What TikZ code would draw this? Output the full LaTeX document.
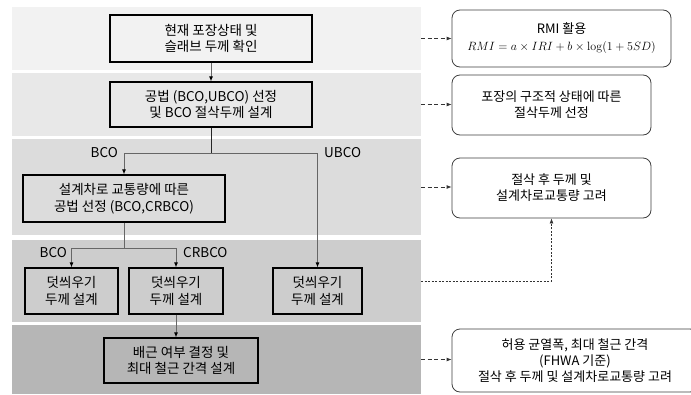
\documentclass[tikz,border=0pt]{standalone}
\usepackage[no-math]{fontspec}
\setmainfont{Noto Sans CJK KR}
\usetikzlibrary{arrows.meta}

\definecolor{bandA}{RGB}{242,242,242}
\definecolor{bandB}{RGB}{232,232,232}
\definecolor{bandC}{RGB}{220,220,220}
\definecolor{bandD}{RGB}{205,205,205}
\definecolor{bandE}{RGB}{182,182,182}

\tikzset{
  band/.style={draw=none, minimum width=409pt, inner sep=0pt},
  flowbox/.style={draw=black, line width=1.2pt, align=center, inner sep=0pt,
    font=\fontsize{13.5}{16.5}\selectfont},
  notebox/.style={draw=black!75, fill=white, line width=0.8pt, rounded corners=8pt,
    align=center, inner sep=0pt, font=\fontsize{13}{16}\selectfont},
  flowline/.style={draw=black!60, line width=0.9pt},
  flowarrow/.style={flowline, -{Latex[length=5pt,width=4pt,black]}},
  notearrow/.style={draw=black!80, line width=0.8pt, dash pattern=on 4pt off 2.5pt,
    -{Latex[length=5pt,width=4pt]}},
  dotarrow/.style={draw=black!80, line width=0.8pt, dash pattern=on 2pt off 1.5pt,
    -{Latex[length=5pt,width=4pt]}},
  branchlabel/.style={font=\fontsize{13.5}{16}\selectfont, inner sep=1pt},
}

\begin{document}
\begin{tikzpicture}[x=1pt,y=-1pt]
    \useasboundingbox[fill=white] (0,0) rectangle (691,394);

    % shaded stages
    \node[band, fill=bandA, minimum height=63pt] (band1) at (216.5, 38.5) {};
    \node[band, fill=bandB, minimum height=63pt] (band2) at (216.5, 104.5) {};
    \node[band, fill=bandC, minimum height=96pt] (band3) at (216.5, 187) {};
    \node[band, fill=bandD, minimum height=82pt] (band4) at (216.5, 281) {};
    \node[band, fill=bandE, minimum height=69pt] (band5) at (216.5, 359.5) {};

    % main flow
    \node[flowbox, fill=bandA, minimum width=202pt, minimum height=47pt] (check) at (211, 38.5)
        {현재 포장상태 및\\슬래브 두께 확인};
    \node[flowbox, fill=bandB, minimum width=202pt, minimum height=45pt] (method) at (211, 104.5)
        {공법 (BCO,UBCO) 선정\\및 BCO 절삭두께 설계};
    \node[flowbox, fill=bandC, minimum width=202pt, minimum height=47pt] (traffic) at (124, 198.5)
        {설계차로 교통량에 따른\\공법 선정 (BCO,CRBCO)};
    \node[flowbox, fill=bandD, minimum width=93pt, minimum height=46pt] (overA) at (71.5, 291)
        {덧씌우기\\두께 설계};
    \node[flowbox, fill=bandD, minimum width=94pt, minimum height=46pt] (overB) at (176, 291)
        {덧씌우기\\두께 설계};
    \node[flowbox, fill=bandD, minimum width=89pt, minimum height=46pt] (overC) at (317.5, 291)
        {덧씌우기\\두께 설계};
    \node[flowbox, fill=bandE, minimum width=154pt, minimum height=45pt] (rebar) at (181, 360.5)
        {배근 여부 결정 및\\최대 철근 간격 설계};

    \coordinate (split1) at (211, 153);
    \coordinate (split2) at (124, 248);

    \draw[flowarrow] (check) -- (method);
    \draw[flowline, draw=black!85] (method) -- (split1);
    \draw[flowarrow] (split1) -| (traffic);
    \draw[flowarrow] (split1) -| (overC);
    \draw[flowline] (traffic) -- (split2);
    \draw[flowarrow] (split2) -| (overA);
    \draw[flowarrow] (split2) -| (overB);
    \draw[flowarrow] (overB) -- (overB |- rebar.north);

    \node[branchlabel, anchor=east] (lblBCO) at (119, 153) {BCO};
    \node[branchlabel, anchor=west] (lblUBCO) at (323, 153) {UBCO};
    \node[branchlabel, anchor=east] (lblBCO2) at (68, 253) {BCO};
    \node[branchlabel, anchor=west] (lblCRBCO) at (182, 253) {CRBCO};

    % side notes
    \node[notebox, minimum width=219pt, minimum height=57pt] (noteA) at (561.5, 38.5)
        {RMI 활용\\[1pt]$RMI = a\times IRI + b\times \log(1+5SD)$};
    \node[notebox, minimum width=199pt, minimum height=60pt] (noteB) at (551.5, 105)
        {포장의 구조적 상태에 따른\\절삭두께 선정};
    \node[notebox, minimum width=199pt, minimum height=60pt] (noteC) at (551.5, 188)
        {절삭 후 두께 및\\설계차로교통량 고려};
    \node[notebox, minimum width=246pt, minimum height=63pt] (noteD) at (575, 360.5)
        {허용 균열폭, 최대 철근 간격\\(FHWA 기준)\\절삭 후 두께 및 설계차로교통량 고려};

    \draw[notearrow] (band1.east) -- (band1.east -| noteA.west);
    \draw[notearrow] (band2.east) -- (band2.east -| noteB.west);
    \draw[notearrow] (band3.east) -- (band3.east -| noteC.west);
    \draw[notearrow] (band5.east) -- (band5.east -| noteD.west);
    \draw[dotarrow] (band4.east) -| (noteC.south);
\end{tikzpicture}
\end{document}
